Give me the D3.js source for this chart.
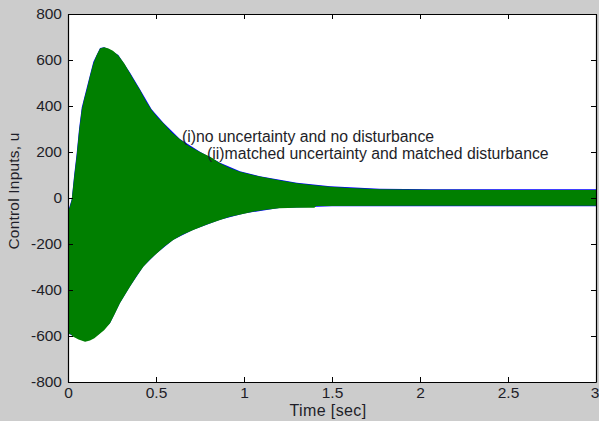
<!DOCTYPE html>
<html><head><meta charset="utf-8">
<script src="https://cdn.jsdelivr.net/npm/d3@7"></script>
<style>
body{margin:0;background:#cccccc;}
svg{display:block;}
text{font-family:"Liberation Sans",Arial,sans-serif;fill:#1e1e28;}
</style></head>
<body>
<svg id="chart" width="599" height="421"></svg>
<script>
// ---- data (envelopes of the fast-switching control signals) ----
const greenUpperTime = [0,0.01,0.021,0.035,0.049,0.063,0.078,0.092,0.106,0.125,0.144,0.163,0.182,0.205,0.23,0.255,0.286,0.32,0.352,0.38,0.409,0.44,0.475,0.51,0.542,0.59,0.636,0.69,0.75,0.81,0.864,0.92,0.977,1.09,1.2,1.3,1.4,1.49,1.6,1.77,2.06,2.5,3.0];
const greenUpper     = [-60,-40,-9,90,180,290,383,430,470,530,585,622,650,655,650,640,620,585,542,505,470,425,383,350,325,285,255,225,200,178,151,130,114,93,77,64,55,49,44,38,36,35,35];
const greenLowerTime = [0,0.015,0.03,0.06,0.097,0.125,0.15,0.172,0.205,0.239,0.265,0.295,0.325,0.352,0.39,0.428,0.465,0.504,0.55,0.598,0.65,0.712,0.79,0.864,0.92,1.0,1.05,1.11,1.2,1.3,1.4,1.41,2.0,2.5,3.0];
const greenLower     = [-590,-592,-603,-615,-625,-620,-610,-596,-575,-545,-505,-458,-420,-386,-340,-299,-268,-241,-210,-183,-160,-139,-115,-96,-82,-68,-60,-52,-45,-42,-42,-35,-34,-34,-34];

const blueUpperTime = [0,0.021,0.035,0.049,0.063,0.078,0.106,0.144,0.182,0.205,0.23,0.286,0.352,0.409,0.475,0.542,0.636,0.75,0.864,0.977,1.09,1.3,1.49,1.77,2.06,2.5,3.0];
const blueUpper     = [-60,-5,100,192,302,393,478,592,652,655,648,622,546,473,386,327,256,201,153,116,95,66,51,40,38,38,38];
const blueLowerTime = [0,0.003,0.03,0.097,0.172,0.239,0.295,0.352,0.428,0.504,0.598,0.712,0.864,1.0,1.2,1.5,2.0,2.5,3.0];
const blueLower     = [-680,-590,-600,-623,-594,-543,-457,-385,-298,-240,-182,-138,-95,-67,-44,-36,-36,-36,-36];

const xTicks      = [0,0.5,1,1.5,2,2.5,3];
const xTickLabels = ["0","0.5","1","1.5","2","2.5","3"];
const yTicks      = [-800,-600,-400,-200,0,200,400,600,800];
const yTickLabels = ["-800","-600","-400","-200","0","200","400","600","800"];
const annotations = ["(i)no uncertainty and no disturbance","(ii)matched uncertainty and matched disturbance"];
const annotationPos = [[0.648,243],[0.79,169]];
const xTitle = "Time [sec]";
const yTitle = "Control Inputs, u";

// ---- drawing ----
const W = 599, H = 421;
const L = 68, R = 596, T = 14, B = 382;
const svg = d3.select("#chart");
svg.append("rect").attr("width",W).attr("height",H).attr("fill","#cccccc");
svg.append("rect").attr("x",L).attr("y",T).attr("width",R-L).attr("height",B-T).attr("fill","#ffffff");

const x = d3.scaleLinear().domain([0,3]).range([L,R]);
const y = d3.scaleLinear().domain([-800,800]).range([B,T]);

function envelopePath(ut,uv,lt,lv){
  const pts = ut.map((t,i)=>[x(t),y(uv[i])]);
  for(let i=lt.length-1;i>=0;i--) pts.push([x(lt[i]),y(lv[i])]);
  return d3.line()(pts) + "Z";
}
svg.append("clipPath").attr("id","pc").append("rect")
  .attr("x",L).attr("y",T).attr("width",R-L).attr("height",B-T);
const g = svg.append("g").attr("clip-path","url(#pc)");
g.append("path").attr("d",envelopePath(blueUpperTime,blueUpper,blueLowerTime,blueLower))
  .attr("fill","#0000ff");
g.append("path").attr("d",envelopePath(greenUpperTime,greenUpper,greenLowerTime,greenLower))
  .attr("fill","#007f00");

// axes (MATLAB style: box, inward ticks)
const fs = "15.5px";
const ax = svg.append("g").attr("transform",`translate(0,${B})`)
  .call(d3.axisBottom(x).tickValues(xTicks).tickFormat((d,i)=>xTickLabels[i]).tickSizeInner(-5).tickSizeOuter(0).tickPadding(5));
const axT = svg.append("g").attr("transform",`translate(0,${T})`)
  .call(d3.axisTop(x).tickValues(xTicks).tickFormat("").tickSizeInner(-5).tickSizeOuter(0));
const ay = svg.append("g").attr("transform",`translate(${L},0)`)
  .call(d3.axisLeft(y).tickValues(yTicks).tickFormat((d,i)=>yTickLabels[i]).tickSizeInner(-5).tickSizeOuter(0).tickPadding(6));
const ayR = svg.append("g").attr("transform",`translate(${R},0)`)
  .call(d3.axisRight(y).tickValues(yTicks).tickFormat("").tickSizeInner(-5).tickSizeOuter(0));
[ax,axT,ay,ayR].forEach(a=>{
  a.selectAll("path.domain").attr("stroke","#000").attr("stroke-width",1.2);
  a.selectAll(".tick line").attr("stroke","#000");
  a.selectAll("text").style("font-family",'"Liberation Sans",Arial,sans-serif').style("font-size",fs).attr("fill","#1e1e28");
});
ax.selectAll("text").attr("dy","0.71em");
ax.selectAll(".tick").filter(d=>d===3).select("text").attr("dx","-1.5");

svg.append("text").attr("x",328).attr("y",416).attr("text-anchor","middle")
  .style("font-size","16px").style("letter-spacing","0.4px").text(xTitle);
svg.append("text").attr("transform","translate(19,191) rotate(-90)").attr("text-anchor","middle")
  .style("font-size","15.5px").style("letter-spacing","0.2px").text(yTitle);

annotations.forEach((s,i)=>{
  svg.append("text").attr("x",x(annotationPos[i][0])).attr("y",y(annotationPos[i][1]))
    .style("font-size","15.8px").text(s);
});
</script>
</body></html>
